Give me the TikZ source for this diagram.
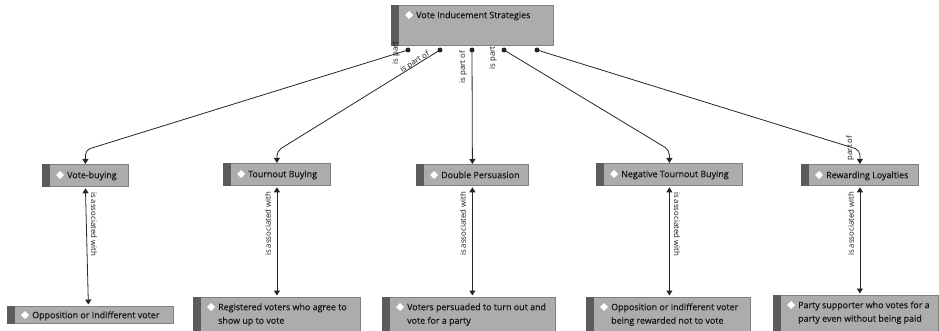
\documentclass[tikz,border=0pt]{standalone}
\usepackage{fontspec}
\setmainfont{Open Sans}
\newfontfamily\boxfont{Open Sans}[FakeBold=0.35]
\usetikzlibrary{arrows.meta}
\definecolor{boxfill}{RGB}{172,172,172}
\definecolor{boxline}{RGB}{128,128,128}
\definecolor{barcol}{RGB}{92,92,92}
\definecolor{txtcol}{RGB}{20,20,20}
\newcommand{\ebox}[7]{%
  \node[box, minimum width=#4pt, minimum height=#5pt] (#1) at (#2,#3) {};
  \fill[barcol] (#1.north west) rectangle ([xshift=8pt]#1.south west);
  \fill[white] ([xshift=18pt,yshift={-(#6-3)*1pt}]#1.north west) ++(0,4) -- ++(4,-4) -- ++(-4,-4) -- ++(-4,4) -- cycle;
  \node[txt] (#1t) at ([xshift=25pt,yshift={-(#6-9)*1pt}]#1.north west) {\rule{0pt}{9pt}#7};
}
\begin{document}
\begin{tikzpicture}[x=1pt,y=-1pt,
  box/.style={draw=boxline, fill=boxfill, anchor=north west, inner sep=0pt, line width=0.8pt},
  txt/.style={anchor=north west, inner sep=0pt, text=txtcol, align=left, font=\boxfont\fontsize{8.9}{13.5}\selectfont},
  lbl/.style={inner sep=0pt, text=txtcol, font=\fontsize{7.8}{8}\selectfont},
  partof/.style={draw=black!85, line width=0.8pt, -{Triangle[length=5pt,width=6pt]}, rounded corners=5pt},
  assoc/.style={draw=black!85, line width=0.8pt, {Triangle[length=5pt,width=6pt]}-{Triangle[length=5pt,width=6pt]}, shorten <=1.5pt, shorten >=1.5pt},
  dot/.style={fill=black!85}]
\useasboundingbox (0,0) rectangle (939,331);
\clip (0,0) rectangle (939,331);

% top node
\ebox{tb}{391}{5}{162}{40}{13}{Vote Inducement Strategies}
% middle row
\ebox{vb}{42}{164}{86}{22}{14}{Vote-buying}
\ebox{tbuy}{223}{163}{107}{22}{14}{Tournout Buying}
\ebox{dp}{416}{164}{112}{21}{14}{Double Persuasion}
\ebox{ntb}{596}{163}{146}{22}{14}{Negative Tournout Buying}
\ebox{rl}{801}{164}{117}{21}{14}{Rewarding Loyalties}
% bottom row
\ebox{oiv}{7}{306}{166}{17}{12}{Opposition or Indifferent voter}
\ebox{rv}{193}{297}{167}{38}{13}{Registered voters who agree to\\show up to vote}
\ebox{vp}{382}{297}{173}{38}{13}{Voters persuaded to turn out and\\vote for a party}
\ebox{oir}{586}{297}{164}{38}{13}{Opposition or indifferent voter\\being rewarded not to vote}
\ebox{ps}{773}{295}{165}{40}{13}{Party supporter who votes for a\\party even without being paid}

% source dots
\coordinate (d1) at (408,50);
\coordinate (d2) at (440,50);
\coordinate (d3) at (472,50);
\coordinate (d4) at (504,50);
\coordinate (d5) at (537,50);
\foreach \d in {d1,d2,d3,d4,d5} \fill[dot] (\d) circle (2.5pt);

% is part of connectors
\draw[partof] (d1) -- ([yshift=14pt]vb.north) -- (vb.north);
\draw[partof] (d2) -- ([yshift=12pt]tbuy.north) -- (tbuy.north);
\draw[partof] (d3) -- (dp.north);
\draw[partof] (d4) -- ([yshift=13pt]ntb.north) -- (ntb.north);
\draw[partof] (d5) -- ([yshift=14pt]rl.north) -- (rl.north);

% is part of labels
\node[lbl, rotate=90] (l1) at (396,53) {is part};
\node[lbl, rotate=31] (l2) at (415,62) {is part of};
\node[lbl, rotate=90] (l3) at (463,67) {is part of};
\node[lbl, rotate=90] (l4) at (493,58) {is part};
\node[lbl, rotate=90] (l5) at (850,148) {part of};

% is associated with connectors
\draw[assoc] (vb.south) -- ([xshift=-2pt]oiv.north);
\draw[assoc] (tbuy.south) -- (tbuy.south |- rv.north);
\draw[assoc] (dp.south) -- (dp.south |- vp.north);
\draw[assoc] (ntb.south) -- (ntb.south |- oir.north);
\draw[assoc] (rl.south) -- (rl.south |- ps.north);

% is associated with labels
\node[lbl, rotate=-90] (a1) at (94,224) {is associated with};
\node[lbl, rotate=90] (a2) at (268,224) {is associated with};
\node[lbl, rotate=90] (a3) at (463,224) {is associated with};
\node[lbl, rotate=-90] (a4) at (677,224) {is associated with};
\node[lbl, rotate=90] (a5) at (851,224) {is associated with};
\end{tikzpicture}
\end{document}
